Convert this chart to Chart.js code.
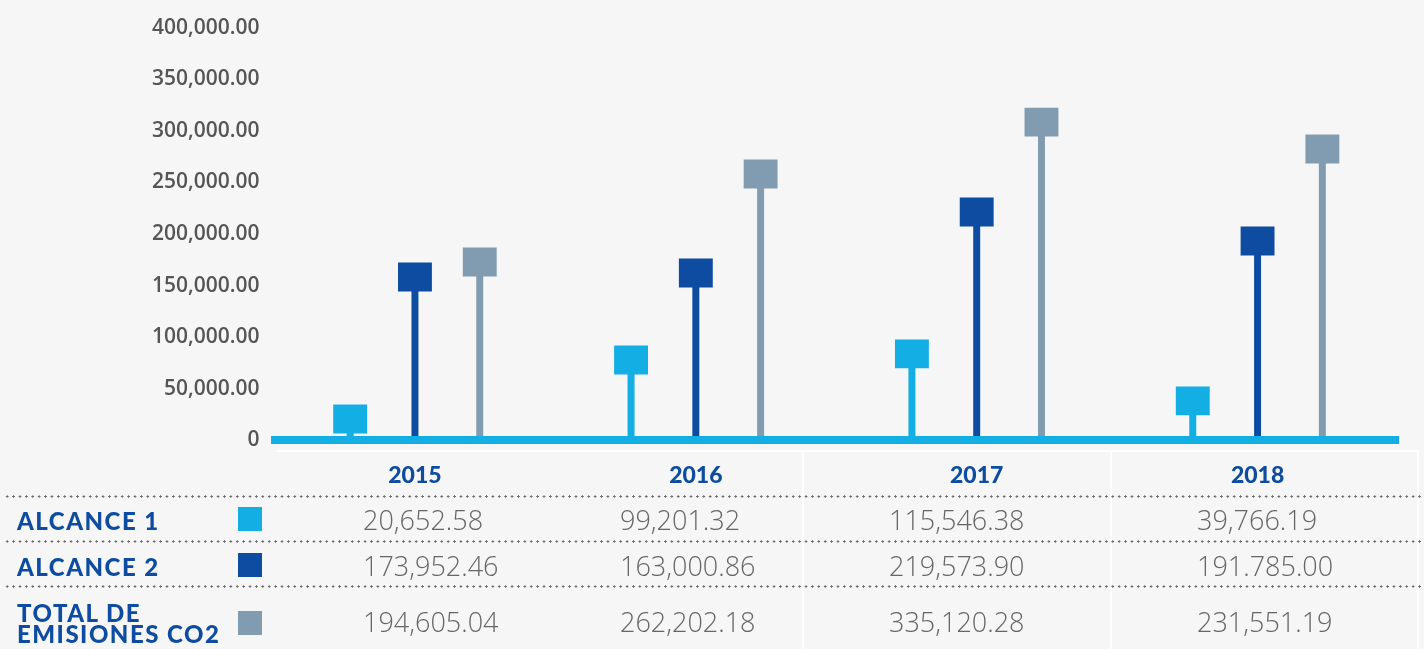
<!DOCTYPE html>
<html>
<head>
<meta charset="utf-8">
<script src="https://cdn.jsdelivr.net/npm/chart.js@4"></script>
<style>
html,body{margin:0;padding:0;background:#f6f6f6;}
#wrap{position:relative;width:1424px;height:649px;overflow:hidden;background:#f6f6f6;}
#chart{position:absolute;left:0;top:0;}
.dots{position:absolute;left:4px;width:1420px;height:3px;
  background-image:radial-gradient(circle,#6a6a6a 0.95px,rgba(0,0,0,0) 1.35px);
  background-size:6.4px 3px;background-repeat:repeat-x;}
.wl{position:absolute;background:#ffffff;}
.lab{position:absolute;left:17px;font-family:Lato,sans-serif;font-weight:900;font-size:24px;letter-spacing:1.5px;color:#0d4ca0;line-height:21px;white-space:nowrap;}
.sw{position:absolute;left:238px;width:24px;height:24px;}
.val{position:absolute;font-family:'Open Sans',sans-serif;font-weight:300;font-size:27px;color:#666666;line-height:30px;white-space:nowrap;}
</style>
</head>
<body>
<div id="wrap">
  <canvas id="chart" width="1424" height="649"></canvas>
  <div id="table"></div>
</div>
<script>
// ---- data ----
const categories = ['2015', '2016', '2017', '2018'];
const seriesNames = ['ALCANCE 1', 'ALCANCE 2', 'TOTAL DE<br>EMISIONES CO2'];
const alcance1 = [20800, 77950, 83800, 38250];
const alcance2 = [158350, 162200, 221300, 193200];
const totalCO2 = [172900, 258100, 308450, 282300];
const yTickValues = [0, 50000, 100000, 150000, 200000, 250000, 300000, 350000, 400000];
const tableAlcance1 = ['20,652.58', '99,201.32', '115,546.38', '39,766.19'];
const tableAlcance2 = ['173,952.46', '163,000.86', '219,573.90', '191.785.00'];
const tableTotal = ['194,605.04', '262,202.18', '335,120.28', '231,551.19'];

// ---- styles ----
const colors = ['#13aee3', '#0d4ca0', '#819cb1'];
const MARKER_HALF = 14000;      // half marker height in value units
const CAT_PCT = 0.692;
const STEM_PCT = 7 / 65;
const MARKER_PCT = 34 / 65;

const series = [alcance1, alcance2, totalCO2];
const datasets = [];
series.forEach((vals, i) => {
  datasets.push({
    label: 'm' + i,
    data: vals.map(v => [v - MARKER_HALF, v + MARKER_HALF]),
    backgroundColor: colors[i],
    stack: 's' + i,
    categoryPercentage: CAT_PCT,
    barPercentage: MARKER_PCT,
    borderWidth: 0
  });
});
series.forEach((vals, i) => {
  datasets.push({
    label: 't' + i,
    data: vals.map(v => [0, v]),
    backgroundColor: colors[i],
    stack: 's' + i,
    categoryPercentage: CAT_PCT,
    barPercentage: STEM_PCT,
    borderWidth: 0
  });
});

new Chart(document.getElementById('chart'), {
  type: 'bar',
  data: { labels: categories, datasets: datasets },
  options: {
    responsive: false,
    animation: false,
    events: [],
    layout: { padding: { top: 26, left: 137, right: 26, bottom: 139 } },
    plugins: { legend: { display: false }, tooltip: { enabled: false } },
    scales: {
      x: {
        grid: { display: false, drawTicks: false },
        border: { display: true, color: '#13aee3', width: 8, z: 1 },
        ticks: {
          padding: 21,
          color: '#0d4ca0',
          font: { family: 'Lato', weight: '900', size: 23 }
        }
      },
      y: {
        stacked: false,
        min: 0, max: 400000,
        grid: { display: false, drawTicks: false },
        border: { display: false },
        afterBuildTicks: (scale) => { scale.ticks = yTickValues.map(v => ({ value: v })); },
        ticks: {
          padding: 15,
          color: '#555555',
          font: { family: 'Open Sans', weight: '600', size: 21 },
          callback: (v) => v === 0 ? '0' : Number(v).toLocaleString('en-US', { minimumFractionDigits: 2, maximumFractionDigits: 2 })
        }
      }
    }
  }
});

// ---- table below the chart ----
const table = document.getElementById('table');
function add(cls, style, html) {
  const d = document.createElement('div');
  d.className = cls;
  Object.assign(d.style, style);
  if (html !== undefined) d.innerHTML = html;
  table.appendChild(d);
}
// white frame lines
add('wl', { left: '277px', top: '450px', width: '1142px', height: '2px' });
[802, 1110, 1417].forEach(x => add('wl', { left: x + 'px', top: '450px', width: '2px', height: '199px' }));
// dotted separators
[496.5, 541.5, 586.5].forEach(y => add('dots', { top: (y - 1.5) + 'px' }));
// labels, swatches, values
const rowCenters = [520, 566, 622];
const swatchTops = [507, 553, 611];
const labelTops = [509.5, 555.5, 601.5];
const colLeft = [363, 620, 889, 1197];
const tableRows = [tableAlcance1, tableAlcance2, tableTotal];
seriesNames.forEach((name, i) => {
  add('lab', { top: labelTops[i] + 'px' }, name);
  add('sw', { top: swatchTops[i] + 'px', background: colors[i] });
  tableRows[i].forEach((txt, j) => {
    add('val', { left: colLeft[j] + 'px', top: (rowCenters[i] - 15) + 'px' }, txt);
  });
});
</script>
</body>
</html>
